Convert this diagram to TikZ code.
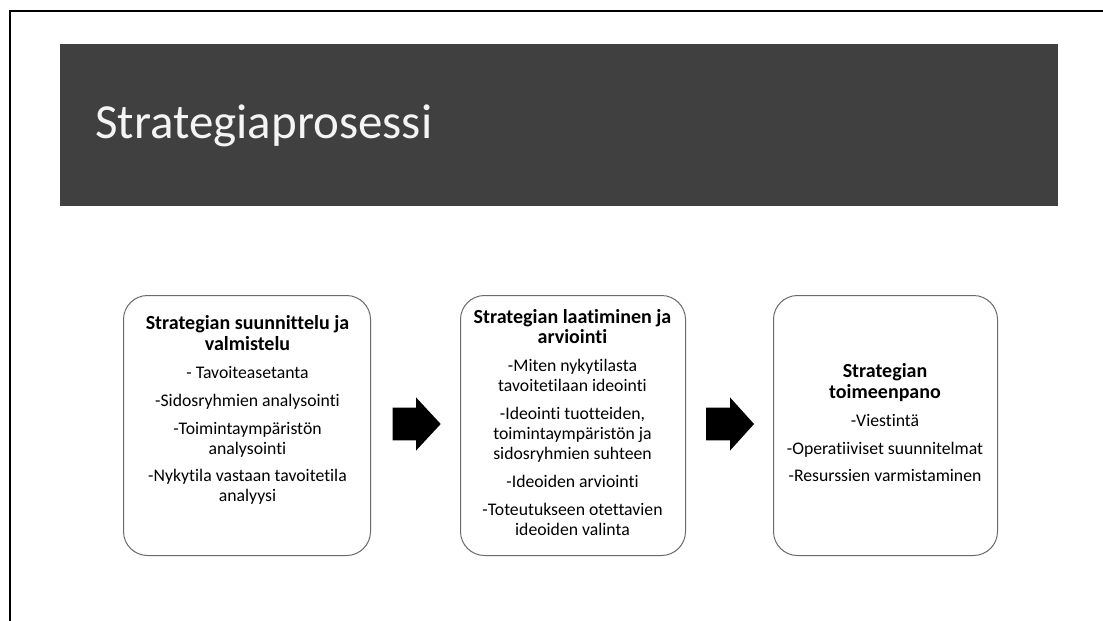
\documentclass[tikz,border=0pt]{standalone}
\usepackage{fontspec}
\setmainfont{Carlito}[Ligatures={NoCommon,NoContextual}]
\definecolor{headergray}{HTML}{404040}
\definecolor{boxgray}{HTML}{6A6A6A}
\definecolor{titlewhite}{HTML}{F4F4F4}
\newcommand{\stagehead}[1]{{\fontsize{20}{20}\selectfont\bfseries #1}}
\begin{document}
\begin{tikzpicture}[x=1pt,y=-1pt,
  stage/.style={draw=boxgray, line width=1pt, rounded corners=24pt, fill=white,
    minimum height=260pt, anchor=north west, inner sep=0pt},
  stagetext/.style={align=center, inner sep=0pt, anchor=base,
    font=\fontsize{17.7}{19.8}\selectfont},
  blockarrow/.style={fill=black}]
\useasboundingbox (0,0) rectangle (1103,621);
\fill[white] (0,0) rectangle (1103,621);
% frame lines along the top and left edges
\draw[line width=2pt] (9.5,621) -- (9.5,10.5) -- (1103,10.5);

% title banner
\node (banner) [fill=headergray, anchor=north west, inner sep=0pt,
  minimum width=998pt, minimum height=162pt] at (60,44) {};
\node (title) [anchor=base west, inner sep=0pt, text=titlewhite,
  font=\fontsize{49}{58}\selectfont] at (95,138.3) {Strategiaprosessi};

% the three stages
\node (plan) [stage, minimum width=247pt] at (123,295) {};
\node (draft) [stage, minimum width=225pt] at (460,295) {};
\node (exec) [stage, minimum width=224pt] at (773,295) {};

% stage texts, each placed by the baseline of its last line
\node (plantext) [stagetext] at (247.5,501.7) {%
  \stagehead{Strategian suunnittelu ja}\\[0.5pt]\stagehead{valmistelu}\\[8.8pt]
  - Tavoiteasetanta\\[8pt]
  -Sidosryhmien analysointi\\[8pt]
  -Toimintaympäristön\\analysointi\\[8pt]
  -Nykytila vastaan tavoitetila\\analyysi};

\node (drafttext) [stagetext] at (572.5,535) {%
  \stagehead{Strategian laatiminen ja}\\[0.5pt]\stagehead{arviointi}\\[8.3pt]
  -Miten nykytilasta\\tavoitetilaan ideointi\\[8.3pt]
  -Ideointi tuotteiden,\\toimintaympäristön ja\\sidosryhmien suhteen\\[8.3pt]
  -Ideoiden arviointi\\[8.3pt]
  -Toteutukseen otettavien\\ideoiden valinta};

\node (exectext) [stagetext] at (885,481.7) {%
  \stagehead{Strategian}\\[1pt]\stagehead{toimeenpano}\\[8.5pt]
  -Viestintä\\[7.8pt]
  -Operatiiviset suunnitelmat\\[7.8pt]
  -Resurssien varmistaminen};

% block arrows between the stages
\coordinate (a1) at (392.7,424);
\coordinate (a2) at (706,424);
\fill[blockarrow] (a1) ++(0,-16.3) -- ++(23.3,0) -- ++(0,-10.3) -- ++(24.7,26.6)
  -- ++(-24.7,26.6) -- ++(0,-10.3) -- ++(-23.3,0) -- cycle;
\fill[blockarrow] (a2) ++(0,-16.3) -- ++(24,0) -- ++(0,-10.3) -- ++(24,26.6)
  -- ++(-24,26.6) -- ++(0,-10.3) -- ++(-24,0) -- cycle;
\end{tikzpicture}
\end{document}
